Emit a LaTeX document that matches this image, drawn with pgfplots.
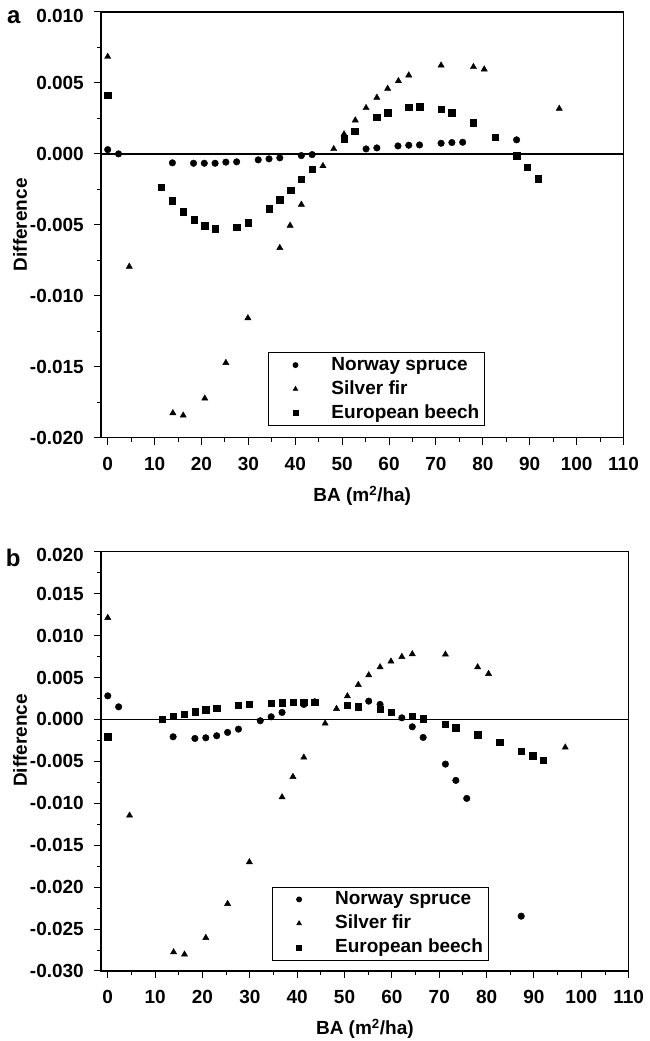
\documentclass[border=0pt]{standalone}
\usepackage{fontspec}
\setmainfont{Liberation Sans}
\usepackage{pgfplots}
\pgfplotsset{compat=1.18}
\newcommand{\ff}{\bfseries\fontsize{19}{22}\selectfont}
\pgfplotsset{
  mylegimg/.style={legend image code/.code={\path[draw=none] (-24pt,0pt) -- (34pt,0pt); \draw[##1,mark size=2.5pt] plot coordinates {(0pt,0pt)};}},
  base/.style={
    scale only axis,
    scaled ticks=false,
    xmin=-1.43, xmax=110,
    xtick={0,10,20,30,40,50,60,70,80,90,100,110},
    xticklabels={0,10,20,30,40,50,60,70,80,90,100,110},
    minor x tick num=1, minor y tick num=1,
    tick align=outside, tick pos=left,
    axis line style={line width=1.2pt},
    every tick/.style={black, line width=1pt},
    major tick length=7pt, minor tick length=4pt,
    tick label style={font=\ff},
    label style={font=\ff},
    xticklabel style={anchor=center, yshift=-19pt},
    yticklabel style={anchor=east, inner xsep=0pt, xshift=-10pt},
    xlabel={BA (m\textsuperscript{2}/ha)},
    ylabel={Difference},
    every axis x label/.style={at={(axis description cs:0.5,0)}, anchor=center, yshift=-58pt},
    legend style={draw=black, line width=0.8pt, inner xsep=3pt, inner ysep=2pt, font=\ff,
      cells={anchor=west}, nodes={inner sep=2pt, text height=14pt, text depth=3pt}, row sep=3pt, anchor=south west},
  },
  sp/.style={only marks, mark=*, mark size=3.3pt, black, mylegimg},
  sf/.style={only marks, mark=triangle*, mark size=3.6pt, black, mylegimg},
  eb/.style={only marks, mark=square*, mark size=3.2pt, black, mylegimg},
}
\begin{document}
\begin{tikzpicture}[font=\ff]
\useasboundingbox (0,0) rectangle (649pt,1041pt);
\node[anchor=base west, inner sep=0pt, font=\bfseries\fontsize{24}{28}\selectfont] at (7pt,1017.7pt) {a};
\node[anchor=base west, inner sep=0pt, font=\bfseries\fontsize{24}{28}\selectfont] at (5.6pt,474.3pt) {b};
\begin{axis}[base, at={(101pt,603.3pt)}, anchor=south west, width=522.5pt, height=425.7pt,
  ymin=-0.02, ymax=0.01,
  ytick={-0.02,-0.015,-0.01,-0.005,0,0.005,0.01},
  yticklabels={-0.020,-0.015,-0.010,-0.005,0.000,0.005,\raisebox{-4pt}[\height][\depth]{0.010}},
  every axis y label/.style={at={(axis description cs:-0.155,0.5)}, rotate=90, anchor=center},
  legend style={at={(0.3198,0.0275)}}]
\addplot[black, line width=1.3pt, forget plot] coordinates {(-1.43,0) (110,0)};
\addplot[sp] coordinates {(0,0.0003) (2.3,0.0000) (13.8,-0.00063) (18.3,-0.00066) (20.6,-0.00066) (22.9,-0.00066) (25.2,-0.00058) (27.5,-0.00056) (32.1,-0.00042) (34.4,-0.00035) (36.7,-0.00028) (41.3,-0.00012) (43.6,-0.00005) (55.1,0.00035) (57.4,0.00042) (61.9,0.00056) (64.2,0.00061) (66.5,0.00063) (71.1,0.00075) (73.4,0.0008) (75.7,0.00082) (87.2,0.00099)};
\addlegendentry{Norway spruce}
\addplot[sf] coordinates {(0,0.00685) (4.6,-0.00794) (13.9,-0.01826) (16.1,-0.01843) (20.7,-0.01723) (25.2,-0.01472) (29.9,-0.01157) (36.7,-0.00662) (38.9,-0.00505) (41.3,-0.00357) (45.9,-0.00085) (48.2,0.00035) (50.4,0.00139) (52.8,0.00237) (55.1,0.00324) (57.4,0.00397) (59.7,0.0046) (62.0,0.00514) (64.2,0.00554) (71.1,0.00624) (78.0,0.00613) (80.3,0.00596) (96.3,0.00319)};
\addlegendentry{Silver fir}
\addplot[eb] coordinates {(0,0.00415) (11.4,-0.00235) (13.8,-0.00329) (16.1,-0.00406) (18.4,-0.00465) (20.7,-0.00507) (22.9,-0.00528) (27.5,-0.00516) (29.9,-0.00486) (34.4,-0.00387) (36.7,-0.00322) (39.0,-0.00254) (41.3,-0.00178) (43.6,-0.00106) (50.4,0.00108) (52.7,0.00162) (57.4,0.00258) (59.7,0.00289) (64.2,0.00329) (66.5,0.00333) (71.1,0.00315) (73.4,0.00291) (78.0,0.0022) (82.6,0.00118) (87.2,-0.00014) (89.5,-0.00094) (91.8,-0.00176)};
\addlegendentry{European beech}
\end{axis}
\begin{axis}[base, at={(101pt,70pt)}, anchor=south west, width=527.7pt, height=419.3pt,
  ymin=-0.03, ymax=0.02,
  ytick={-0.03,-0.025,-0.02,-0.015,-0.01,-0.005,0,0.005,0.01,0.015,0.02},
  yticklabels={-0.030,-0.025,-0.020,-0.015,-0.010,-0.005,0.000,0.005,0.010,0.015,\raisebox{-3pt}[\height][\depth]{0.020}},
  every axis y label/.style={at={(axis description cs:-0.1535,0.55)}, rotate=90, anchor=center},
  legend style={at={(0.3235,0.0255)}}]
\addplot[black, line width=1.3pt, forget plot] coordinates {(-1.43,0) (110,0)};
\addplot[sp] coordinates {(0,0.00281) (2.3,0.0015) (13.8,-0.00207) (18.4,-0.00227) (20.7,-0.00219) (23.0,-0.00195) (25.3,-0.00155) (27.6,-0.00116) (32.2,-0.00016) (34.5,0.00031) (36.8,0.00083) (41.4,0.00179) (43.7,0.0021) (55.1,0.00218) (57.5,0.00179) (62.1,0.00019) (64.3,-0.00088) (66.6,-0.00215) (71.3,-0.00533) (73.5,-0.00727) (75.8,-0.00942) (87.3,-0.02346)};
\addlegendentry{Norway spruce}
\addplot[sf] coordinates {(0,0.01212) (4.6,-0.01145) (13.9,-0.02775) (16.2,-0.02802) (20.7,-0.02604) (25.3,-0.02199) (29.9,-0.01701) (36.8,-0.00927) (39.1,-0.00684) (41.4,-0.00453) (45.9,-0.00048) (48.3,0.00127) (50.6,0.00278) (52.9,0.00413) (55.1,0.00528) (57.5,0.00624) (59.8,0.00692) (62.1,0.00747) (64.3,0.00779) (71.3,0.00775) (78.1,0.00624) (80.4,0.00544) (96.6,-0.00334)};
\addlegendentry{Silver fir}
\addplot[eb] coordinates {(0,-0.00207) (11.5,0) (13.8,0.00036) (16.1,0.00063) (18.4,0.00091) (20.7,0.00115) (23.0,0.00131) (27.6,0.00167) (29.9,0.00182) (34.5,0.00194) (36.8,0.00198) (39.1,0.00203) (41.4,0.00203) (43.7,0.00203) (50.5,0.00167) (52.9,0.0015) (57.5,0.00123) (59.8,0.00087) (64.3,0.00036) (66.6,0.00008) (71.3,-0.0006) (73.5,-0.001) (78.1,-0.00183) (82.8,-0.00274) (87.3,-0.00378) (89.7,-0.00434) (91.9,-0.00485)};
\addlegendentry{European beech}
\end{axis}
\end{tikzpicture}
\end{document}
